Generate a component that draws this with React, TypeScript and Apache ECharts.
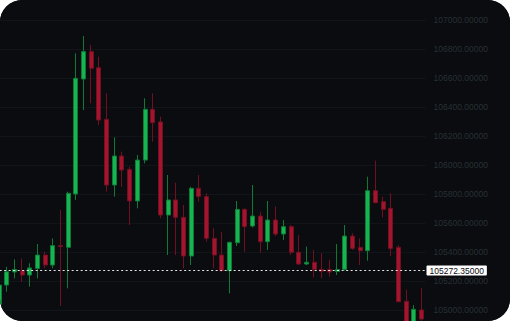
import React, { useEffect, useRef } from "react";
import * as echarts from "echarts";

const categories = [
  "1", "2", "3", "4", "5", "6", "7", "8", "9", "10",
  "11", "12", "13", "14", "15", "16", "17", "18", "19", "20",
  "21", "22", "23", "24", "25", "26", "27", "28", "29", "30",
  "31", "32", "33", "34", "35", "36", "37", "38", "39", "40",
  "41", "42", "43", "44", "45", "46", "47", "48", "49", "50",
  "51", "52", "53", "54", "55", "56",
];

const opens = [
  105040, 105172, 105262, 105271, 105241, 105287, 105379, 105310, 105444, 105432,
  105800, 106593, 106782, 106671, 106315, 105862, 106062, 105970, 105752, 106034,
  106384, 106297, 105655, 105759, 105639, 105372, 105839, 105782, 105494, 105379,
  105271, 105464, 105694, 105579, 105648, 105471, 105621, 105524, 105575, 105398,
  105317, 105329, 105280, 105280, 105266, 105280, 105510, 105432, 105409, 105823,
  105747, 105701, 105432, 105060, 104920, 105000,
];

const closes = [
  105172, 105264, 105280, 105241, 105290, 105379, 105310, 105444, 105437, 105805,
  106598, 106782, 106667, 106310, 105862, 106062, 105965, 105752, 106034, 106384,
  106292, 105655, 105759, 105639, 105372, 105839, 105782, 105494, 105379, 105271,
  105467, 105694, 105575, 105648, 105471, 105621, 105524, 105575, 105398, 105317,
  105329, 105280, 105268, 105262, 105280, 105510, 105425, 105409, 105823, 105740,
  105694, 105425, 105057, 104920, 105005, 104937.84,
];

const lows = [
  104990, 105126, 105218, 105195, 105161, 105218, 105287, 105287, 105028, 105149,
  105759, 106379, 106425, 106276, 105816, 105782, 105850, 105586, 105701, 106011,
  106161, 105632, 105379, 105379, 105287, 105310, 105747, 105471, 105287, 105264,
  105115, 105441, 105402, 105570, 105395, 105414, 105510, 105483, 105379, 105310,
  105310, 105225, 105218, 105230, 105241, 105271, 105414, 105310, 105340, 105736,
  105639, 105372, 105057, 104880, 104900, 104900,
];

const highs = [
  105180, 105298, 105349, 105356, 105322, 105455, 105402, 105494, 105690, 105816,
  106770, 106890, 106828, 106747, 106494, 106191, 106092, 105988, 106069, 106460,
  106494, 106333, 105931, 105878, 105724, 105850, 105931, 105805, 105563, 105540,
  105471, 105752, 105701, 105862, 105678, 105752, 105713, 105621, 105586, 105517,
  105437, 105414, 105391, 105345, 105455, 105586, 105529, 105494, 105919, 106030,
  105782, 105805, 105448, 105140, 105034, 105152,
];

const axisMin = 104800;
const axisMax = 107000;
const axisInterval = 200;
const markerPrice = 105272.35;
const lastPrice = 104937.84;

const FONT = "'Liberation Sans', Arial, sans-serif";

export default function App() {
  const ref = useRef<HTMLDivElement>(null);

  useEffect(() => {
    document.body.style.margin = "0";
    document.body.style.background = "#ffffff";
    const chart = echarts.init(ref.current as HTMLDivElement, null, { renderer: "svg" });
    const data = categories.map((_, i) => [opens[i], closes[i], lows[i], highs[i]]);

    chart.setOption({
      animation: false,
      backgroundColor: "#0a0c0f",
      grid: { left: 5.16, right: 84.5, top: 20, bottom: 6, containLabel: false },
      xAxis: {
        type: "category",
        data: categories,
        boundaryGap: true,
        axisLine: { show: false },
        axisTick: { show: false },
        axisLabel: { show: false },
        splitLine: { show: false },
      },
      yAxis: {
        type: "value",
        position: "right",
        min: axisMin,
        max: axisMax,
        interval: axisInterval,
        axisLine: { show: false },
        axisTick: { show: false },
        axisLabel: {
          color: "#283035",
          fontSize: 8.5,
          fontFamily: FONT,
          margin: 8,
          formatter: (v: number) => v.toFixed(5),
        },
        splitLine: { show: true, lineStyle: { color: "#11151a", width: 1 } },
      },
      series: [
        {
          type: "candlestick",
          data,
          barWidth: 4.5,
          itemStyle: {
            color: "#17b552",
            color0: "#a3152e",
            borderColor: "#0f7a36",
            borderColor0: "#721022",
            borderWidth: 1,
          },
          markLine: {
            silent: true,
            symbol: ["none", "none"],
            animation: false,
            data: [
              {
                yAxis: markerPrice,
                lineStyle: { color: "#e6e6e6", type: [2, 2.5], width: 1.2 },
                label: {
                  show: true,
                  position: "end",
                  distance: 1,
                  formatter: (p: any) => Number(p.value).toFixed(5),
                  backgroundColor: "#ffffff",
                  color: "#0a0c0f",
                  fontSize: 8.5,
                  fontFamily: FONT,
                  lineHeight: 9,
                  padding: [1, 3, 0, 3],
                  borderRadius: 1,
                },
              },
              {
                yAxis: lastPrice,
                lineStyle: { color: "#0a0c0f", opacity: 0, width: 1 },
                label: {
                  show: true,
                  position: "end",
                  distance: 1,
                  formatter: (p: any) => Number(p.value).toFixed(5),
                  backgroundColor: "#0a0c0f",
                  borderColor: "#8a8f94",
                  borderWidth: 1,
                  color: "#d4d8dc",
                  fontSize: 8.5,
                  fontFamily: FONT,
                  lineHeight: 9,
                  padding: [1, 3, 0, 3],
                  borderRadius: 2,
                },
              },
            ],
          },
        },
      ],
    });

    return () => chart.dispose();
  }, []);

  return (
    <div
      style={{
        position: "relative",
        width: 510,
        height: 321,
        borderRadius: 22,
        overflow: "hidden",
        background: "#0a0c0f",
      }}
    >
      <div
        ref={ref}
        style={{ position: "absolute", left: -10, top: 0, width: 520, height: 345 }}
      />
    </div>
  );
}
